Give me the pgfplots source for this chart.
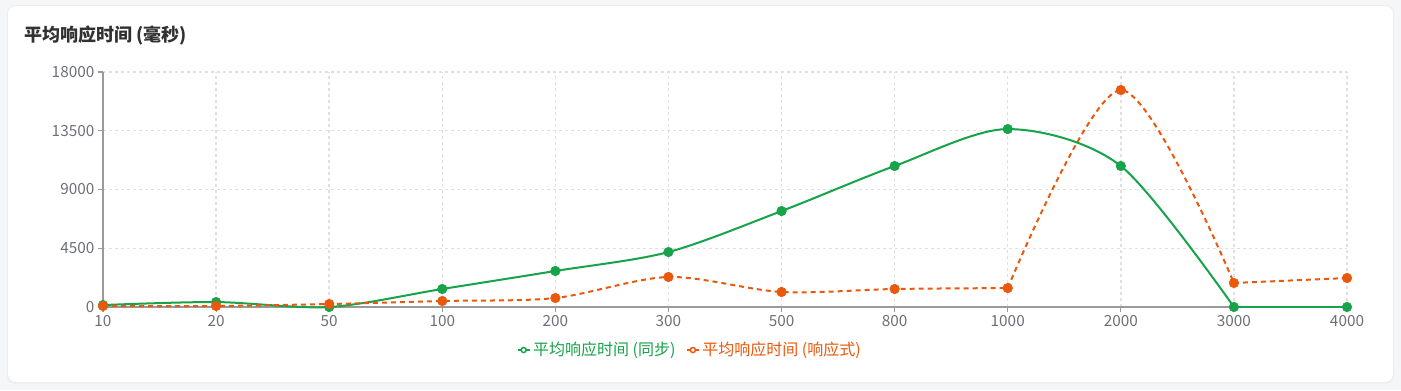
\documentclass[border=0pt]{standalone}
\usepackage{pgfplots}
\pgfplotsset{compat=1.18}
\usepackage{fontspec}
\setmainfont{Noto Sans CJK SC}
\definecolor{sync}{HTML}{16A34A}
\definecolor{reac}{HTML}{EA580C}
\definecolor{bg}{HTML}{F5F6F8}
\definecolor{tickc}{HTML}{6E7079}
\definecolor{titlec}{HTML}{303133}
\definecolor{gridc}{HTML}{E0E0E0}
\definecolor{axisc}{HTML}{9A9A9A}
\begin{document}
\begin{tikzpicture}
\fill[bg] (0,0) rectangle (1050.75pt,-292.5pt);
\fill[black!7, rounded corners=6pt] (5.25pt,-3.75pt) rectangle (1045.5pt,-287.75pt);
\fill[white, rounded corners=6pt] (6pt,-4.5pt) rectangle (1044.75pt,-286.5pt);
\node[anchor=west, font=\bfseries\fontsize{13.5}{15}\selectfont, text=titlec, inner sep=0pt] at (18pt,-27pt) {平均响应时间 (毫秒)};
\begin{axis}[
  at={(77.25pt,-230.25pt)}, anchor=south west,
  scale only axis, width=933pt, height=176.25pt,
  xmin=0, xmax=11, ymin=0, ymax=18000,
  xtick={0,...,11},
  xticklabels={10,20,50,100,200,300,500,800,1000,2000,3000,4000},
  ytick={0,4500,9000,13500,18000},
  scaled y ticks=false,
  /pgf/number format/assume math mode=true,
  /pgf/number format/1000 sep={},
  axis lines*=left,
  axis line style={draw=axisc, line width=1pt},
  tick align=outside,
  major tick length=4pt,
  tick style={draw=axisc, line width=0.8pt},
  ticklabel style={font=\fontsize{11.5}{13}\selectfont, text=tickc},
  xticklabel style={yshift=1.5pt},
  yticklabel style={xshift=1pt},
  grid=major,
  grid style={draw=gridc, line width=1.1pt, dash pattern=on 2.25pt off 2.25pt},
  clip=false,
  legend style={at={(0.472,-0.183)}, anchor=center, draw=none, fill=none,
    legend columns=2, font=\fontsize{12}{14}\selectfont,
    /tikz/every even column/.append style={column sep=6pt}},
  legend cell align=left,
  legend image code/.code={
    \draw[#1, mark=none, solid] (0pt,0pt) -- (9pt,0pt);
    \draw[#1, mark=none, solid, fill=white] (4.5pt,0pt) circle (1.9pt);
  },
]
% green (synchronous): smooth part, then the flat end
\addplot[forget plot, sync, line width=1.5pt, smooth, tension=0.5]
coordinates {(0,150) (1,380) (2,0) (3,1380) (4,2760) (5,4210) (6,7350) (7,10800) (8,13630) (9,10800) (10,0)};
\addplot[forget plot, sync, line width=1.5pt]
coordinates {(10,0) (11,0)};
\addplot[forget plot, only marks, mark=*, mark size=3.6pt, mark options={fill=sync, draw=sync}]
coordinates {(0,150) (1,380) (2,0) (3,1380) (4,2760) (5,4210) (6,7350) (7,10800) (8,13630) (9,10800) (10,0) (11,0)};
% orange (reactive)
\addplot[forget plot, reac, line width=1.5pt, smooth, tension=0.5, dash pattern=on 3.75pt off 3pt]
coordinates {(0,80) (1,80) (2,230) (3,460) (4,690) (5,2300) (6,1150) (7,1380) (8,1450)};
\addplot[forget plot, reac, line width=1.5pt, smooth, tension=0.5, dash pattern=on 3.75pt off 3pt]
coordinates {(8,1450) (9,16620) (10,1840)};
\addplot[forget plot, reac, line width=1.5pt, dash pattern=on 3.75pt off 3pt]
coordinates {(10,1840) (11,2220)};
\addplot[forget plot, only marks, mark=*, mark size=3.6pt, mark options={fill=reac, draw=reac}]
coordinates {(0,80) (1,80) (2,230) (3,460) (4,690) (5,2300) (6,1150) (7,1380) (8,1450) (9,16620) (10,1840) (11,2220)};
\addlegendimage{sync, line width=1.1pt}
\addlegendentry{\textcolor{sync}{平均响应时间 (同步)}}
\addlegendimage{reac, line width=1.1pt}
\addlegendentry{\textcolor{reac}{平均响应时间 (响应式)}}
\end{axis}
\end{tikzpicture}
\end{document}
